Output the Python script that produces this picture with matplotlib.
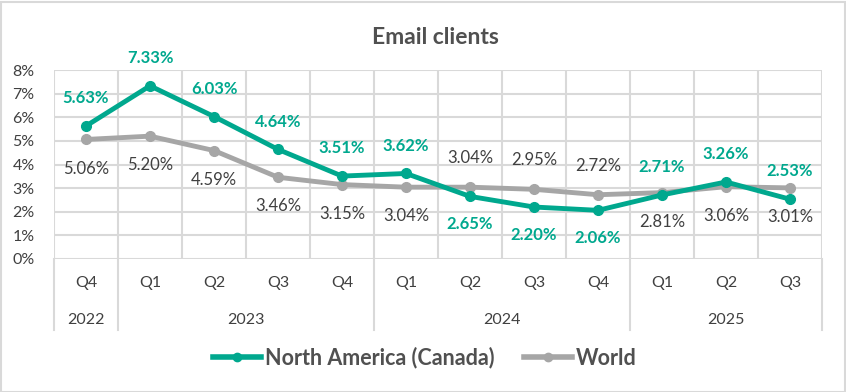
import numpy as np
import matplotlib
matplotlib.use("Agg")
import matplotlib.pyplot as plt
from matplotlib.lines import Line2D
from matplotlib.patches import Rectangle

quarters = ["Q4", "Q1", "Q2", "Q3", "Q4", "Q1", "Q2", "Q3", "Q4", "Q1", "Q2", "Q3"]
years = ["2022", "2023", "2024", "2025"]
year_spans = [(0, 0), (1, 4), (5, 8), (9, 11)]
north_america = [5.63, 7.33, 6.03, 4.64, 3.51, 3.62, 2.65, 2.20, 2.06, 2.71, 3.26, 2.53]
world = [5.06, 5.20, 4.59, 3.46, 3.15, 3.04, 3.04, 2.95, 2.72, 2.81, 3.06, 3.01]
# +1 label above the point, -1 below
na_side = [1, 1, 1, 1, 1, 1, -1, -1, -1, 1, 1, 1]
world_side = [-1, -1, -1, -1, -1, -1, 1, 1, 1, -1, -1, -1]

teal = "#00A88E"
grey = "#A6A6A6"
text_dark = "#404040"
grid_c = "#D9D9D9"

plt.rcParams["font.family"] = ["Lato", "DejaVu Sans"]

fig = plt.figure(figsize=(8.46, 3.92), dpi=100)
ax = fig.add_axes([54 / 846, 1 - 259 / 392, 768 / 846, 189 / 392])

x = np.arange(len(quarters))
ax.plot(x, world, color=grey, lw=3.5, marker="o", ms=7, zorder=3, solid_capstyle="round")
ax.plot(x, north_america, color=teal, lw=3.5, marker="o", ms=7, zorder=4, solid_capstyle="round")

for i, (v, s) in enumerate(zip(north_america, na_side)):
    ax.annotate(f"{v:.2f}%", (i, v), xytext=(0, 20 * s), textcoords="offset points",
                ha="center", va="center", color=teal, fontsize=12, fontweight="bold")
for i, (v, s) in enumerate(zip(world, world_side)):
    ax.annotate(f"{v:.2f}%", (i, v), xytext=(0, 21 * s), textcoords="offset points",
                ha="center", va="center", color=text_dark, fontsize=12)

ax.set_xlim(-0.5, len(quarters) - 0.5)
ax.set_ylim(0, 8)
ax.set_yticks(range(0, 9))
ax.set_yticklabels([f"{t}%" for t in range(0, 9)], color=text_dark, fontsize=11.5)
ax.set_xticks(np.arange(-0.5, len(quarters), 1), minor=False)
ax.set_xticklabels([])
ax.tick_params(length=0, pad=14)
ax.grid(True, color=grid_c, lw=1.5)
for sp in ax.spines.values():
    sp.set_visible(False)

# multi-level category axis below the plot
trans = ax.get_xaxis_transform()
for i, q in enumerate(quarters):
    ax.text(i, -0.127, q, transform=trans, ha="center", va="center",
            color=text_dark, fontsize=11.5)
for yr, (a, b) in zip(years, year_spans):
    ax.text((a + b) / 2, -0.323, yr, transform=trans, ha="center", va="center",
            color=text_dark, fontsize=11.5)
bounds = [-0.5] + [b + 0.5 for _, b in year_spans]
for bx in bounds:
    ax.plot([bx, bx], [0, -0.376], transform=trans, color=grid_c, lw=1.5, clip_on=False)

fig.text(435 / 846, 1 - 38 / 392, "Email clients", ha="center", va="center",
         fontsize=16.5, fontweight="bold", color="#505050")

handles = [Line2D([0], [0], color=teal, lw=4, marker="o", ms=6),
           Line2D([0], [0], color=grey, lw=4, marker="o", ms=6)]
fig.legend(handles, ["North America (Canada)", "World"], loc="center",
           bbox_to_anchor=(425 / 846, 1 - 358 / 392), ncol=2, frameon=False,
           prop={"size": 15.5, "weight": "bold"}, labelcolor="#505050",
           handlelength=2.2, handletextpad=0.2, columnspacing=1.4)

fig.add_artist(Rectangle((0.5 / 846, 0.5 / 392), 844 / 846, 390 / 392,
                         transform=fig.transFigure, fill=False, ec=grid_c, lw=1.5))

fig.savefig("out.png", dpi=100)
